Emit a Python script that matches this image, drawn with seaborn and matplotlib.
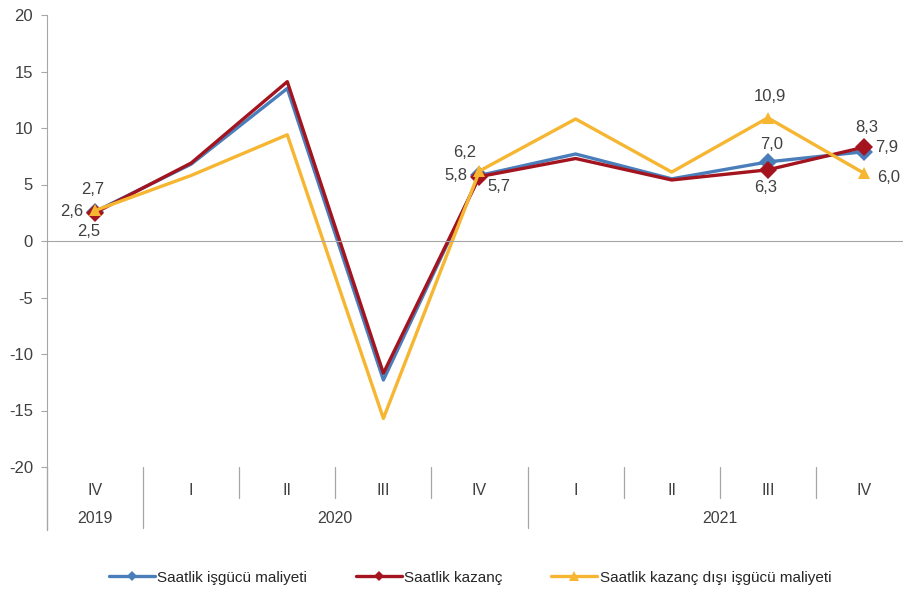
import pandas as pd
import seaborn as sns
import matplotlib.pyplot as plt

# Quarterly change (%)
quarters = ['IV', 'I', 'II', 'III', 'IV', 'I', 'II', 'III', 'IV']
years = ['2019', '2020', '2021']
isgucu = [2.6, 6.8, 13.5, -12.3, 5.8, 7.7, 5.5, 7.0, 7.9]
kazanc = [2.5, 6.9, 14.1, -11.7, 5.7, 7.3, 5.4, 6.3, 8.3]
kazanc_disi = [2.7, 5.8, 9.4, -15.7, 6.2, 10.8, 6.1, 10.9, 6.0]

series_names = ['Saatlik işgücü maliyeti', 'Saatlik kazanç', 'Saatlik kazanç dışı işgücü maliyeti']
labelled = [0, 4, 7, 8]

colors = {series_names[0]: '#4a7ebb', series_names[1]: '#a3141f', series_names[2]: '#f6b631'}
markers = {series_names[0]: 'D', series_names[1]: 'D', series_names[2]: '^'}

# label offsets in pixels (dx, dy, ha) per series per labelled point
offsets = {
    series_names[0]: {0: (-12, 0, 'right'), 4: (-12, 0, 'right'), 7: (4, 17, 'center'), 8: (11, 4, 'left')},
    series_names[1]: {0: (-6, -19, 'center'), 4: (19, -10, 'center'), 7: (-2, -18, 'center'), 8: (3, 20, 'center')},
    series_names[2]: {0: (-2, 21, 'center'), 4: (-15, 18, 'center'), 7: (2, 21, 'center'), 8: (13, -4, 'left')},
}

rows = []
for name, vals in zip(series_names, [isgucu, kazanc, kazanc_disi]):
    for i, v in enumerate(vals):
        rows.append({'x': i, 'value': v, 'series': name})
df = pd.DataFrame(rows)

sns.set_style('white')
plt.rcParams['font.family'] = ['Liberation Sans', 'DejaVu Sans']
plt.rcParams['axes.unicode_minus'] = False

fig = plt.figure(figsize=(9.04, 5.92), dpi=100)
ax = fig.add_axes([47 / 904, 1 - 467 / 592, 865 / 904, 452 / 592])

sns.lineplot(data=df, x='x', y='value', hue='series', style='series', palette=colors,
             markers=markers, dashes=False, linewidth=2.4, markersize=9,
             markevery=labelled, markeredgewidth=0, ax=ax, legend=True)

ax.set_xlim(-0.5, 8.5)
ax.set_ylim(-20, 20)
ax.set_yticks(range(-20, 21, 5))
ax.set_xlabel('')
ax.set_ylabel('')

grey = '#a6a6a6'
txt = '#404040'
ax.spines['top'].set_visible(False)
ax.spines['right'].set_visible(False)
ax.spines['left'].set_color(grey)
ax.spines['bottom'].set_color(grey)
ax.spines['bottom'].set_position(('data', 0))
ax.set_xticks([b + 0.5 for b in range(8)])
ax.set_xticklabels([])
ax.tick_params(axis='x', direction='out', length=4, color=grey)
ax.tick_params(axis='y', direction='out', length=4, color=grey, labelsize=12,
               labelcolor=txt, pad=6, left=True)

# data labels
for name, vals in zip(series_names, [isgucu, kazanc, kazanc_disi]):
    for i in labelled:
        dx, dy, ha = offsets[name][i]
        ax.annotate(f'{vals[i]:.1f}'.replace('.', ','), (i, vals[i]), xytext=(dx, dy),
                    textcoords='offset pixels', ha=ha, va='center', fontsize=12, color=txt)

# category axis below the plot
trans = ax.get_xaxis_transform()
for i, q in enumerate(quarters):
    ax.text(i, -0.051, q, transform=trans, ha='center', va='center', fontsize=11.5, color=txt)
year_pos = [0, 2.5, 6.5]
for yp, yr in zip(year_pos, years):
    ax.text(yp, -0.115, yr, transform=trans, ha='center', va='center', fontsize=11.5, color=txt)
for b in range(8):
    bx = b + 0.5
    low = -0.135 if b in (0, 4) else -0.069
    ax.plot([bx, bx], [0, low], transform=trans, color=grey, lw=0.9, clip_on=False)
ax.plot([-0.5, -0.5], [0, -0.14], transform=trans, color=grey, lw=1.0, clip_on=False)

handles, labels = ax.get_legend_handles_labels()
ax.get_legend().remove()
for h, lab in zip(handles, labels):
    h.set_markersize(7 if markers[lab] == '^' else 5)
fig.legend(handles, labels, loc='center', bbox_to_anchor=(0.52, 0.024), ncol=3, frameon=False,
           fontsize=11, handlelength=3, columnspacing=3.2, handletextpad=0.15, labelcolor='#262626')

fig.savefig('out.png', dpi=100)
